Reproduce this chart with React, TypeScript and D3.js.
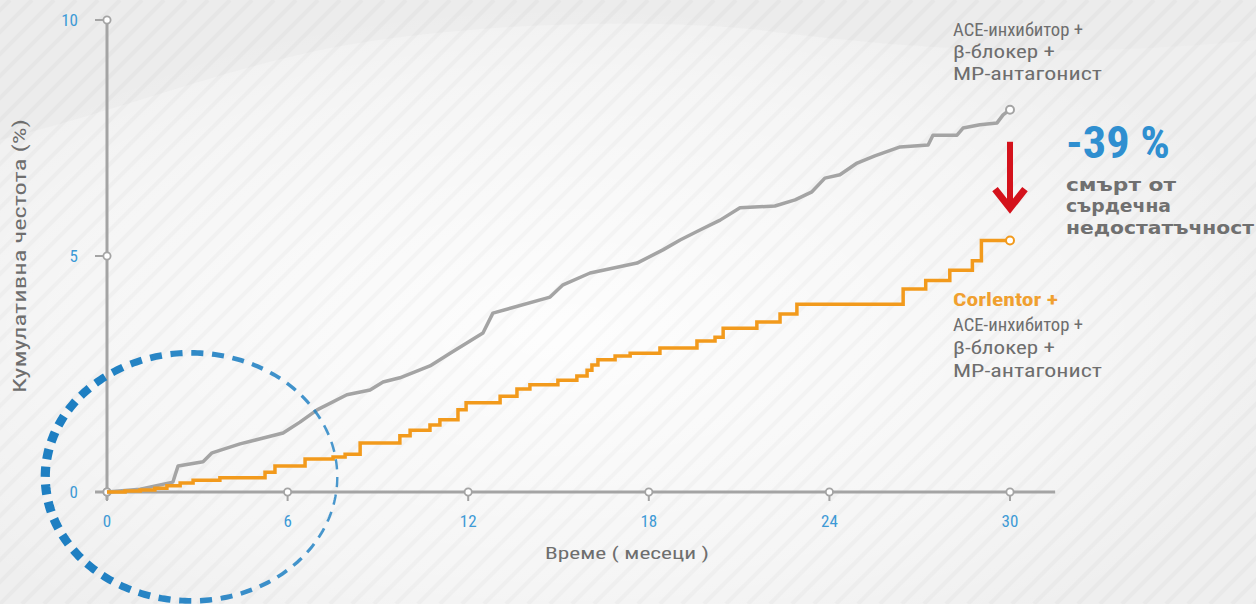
import React from "react";
import * as d3 from "d3";

// Cumulative incidence (%) by month — standard therapy
const controlMonths = [0, 1.1, 2.19, 2.36, 3.19, 3.49, 4.42, 5.85, 6.41, 6.98, 7.97, 8.74, 9.17, 9.73, 10.73, 11.4, 12.49, 12.82, 14.72, 15.15, 16.05, 17.61, 18.47, 19.04, 19.7, 20.37, 21.03, 22.19, 22.86, 23.42, 23.85, 24.35, 24.92, 25.51, 26.35, 27.28, 27.44, 28.24, 28.44, 29.0, 29.57, 29.77, 30.0];
const controlValues = [0, 0.06, 0.21, 0.55, 0.64, 0.83, 1.02, 1.25, 1.48, 1.74, 2.06, 2.16, 2.33, 2.42, 2.67, 2.94, 3.37, 3.79, 4.13, 4.39, 4.64, 4.85, 5.13, 5.34, 5.55, 5.76, 6.02, 6.06, 6.19, 6.36, 6.65, 6.72, 6.97, 7.12, 7.31, 7.35, 7.56, 7.56, 7.71, 7.78, 7.82, 7.99, 8.1];

// Cumulative incidence (%) by month — Corlentor added (step function)
const treatedMonths = [0, 0.6, 1.1, 1.59, 1.99, 2.43, 2.86, 3.75, 5.25, 5.58, 6.58, 7.51, 7.91, 8.41, 9.73, 10.07, 10.73, 11.06, 11.66, 11.93, 13.06, 13.62, 14.05, 14.98, 15.61, 15.95, 16.11, 16.31, 16.88, 17.38, 18.37, 19.6, 20.2, 20.47, 21.59, 22.36, 22.92, 26.45, 27.2, 28.0, 28.75, 29.05, 30.0];
const treatedValues = [0, 0.02, 0.04, 0.08, 0.13, 0.19, 0.25, 0.3, 0.42, 0.55, 0.7, 0.74, 0.8, 1.04, 1.19, 1.31, 1.42, 1.53, 1.74, 1.89, 2.03, 2.18, 2.27, 2.37, 2.46, 2.58, 2.69, 2.8, 2.88, 2.94, 3.05, 3.2, 3.28, 3.47, 3.6, 3.77, 3.98, 4.3, 4.48, 4.7, 4.9, 5.33, 5.33];

const xTicks = [0, 6, 12, 18, 24, 30];
const yTicks = [0, 5, 10];

const yTitle = "Кумулативна честота (%)";
const xTitle = "Време ( месеци )";
const controlLabel = ["ACE-инхибитор +", "β-блокер +", "MP-антагонист"];
const treatedHead = "Corlentor +";
const treatedLabel = ["ACE-инхибитор +", "β-блокер +", "MP-антагонист"];
const reduction = "-39 %";
const reductionText = ["смърт от", "сърдечна", "недостатъчност"];

const W = 1256;
const H = 604;
const GRAY = "#a4a4a4";
const ORANGE = "#f29a1c";
const BLUE = "#3d9ad6";
const TEXT = "#6e6e6e";
const FONT = "'Liberation Sans Narrow', 'Roboto Condensed', Roboto, sans-serif";

// widths of the stacked label lines
const labelWidths = [130, 102, 149];
const reductionWidths = [110, 105, 188];

export default function App() {
  const x = d3.scaleLinear().domain([0, 30]).range([107, 1010]);
  const y = d3.scaleLinear().domain([0, 10]).range([492, 20]);

  const control = controlMonths.map((m, i) => [m, controlValues[i]] as [number, number]);
  const treated = treatedMonths.map((m, i) => [m, treatedValues[i]] as [number, number]);

  const lineLinear = d3.line<[number, number]>().x((d) => x(d[0])).y((d) => y(d[1])).curve(d3.curveLinear);
  const lineStep = d3.line<[number, number]>().x((d) => x(d[0])).y((d) => y(d[1])).curve(d3.curveStepAfter);

  const lastC = control[control.length - 1];
  const lastT = treated[treated.length - 1];

  // dashed highlight ring around the first months, thicker on the left
  const ringCx = x(2.8);
  const ringCy = y(0.32);
  const rx = 146;
  const ry = 124;
  const nDash = 44;
  const dashes = d3.range(nDash).map((i) => {
    const step = (Math.PI * 2) / nDash;
    const a0 = i * step;
    const a1 = a0 + step * 0.58;
    const pts = d3.range(0, 1.0001, 0.25).map((t) => {
      const a = a0 + (a1 - a0) * t;
      return [ringCx + rx * Math.cos(a), ringCy + ry * Math.sin(a)] as [number, number];
    });
    const mid = (a0 + a1) / 2;
    const w = 5.8 - 3.4 * Math.cos(mid);
    const op = 0.92 - 0.12 * Math.cos(mid);
    return { d: d3.line()(pts) as string, w, op };
  });

  const stripes = d3.range(-40, 80).map((i) => i * 22);

  const arrowX = x(30);
  const arrowTop = y(7.42);
  const arrowTip = y(5.93);

  return (
    <svg
      width={W}
      height={H}
      viewBox={`0 0 ${W} ${H}`}
      style={{ position: "absolute", left: 0, top: 0, display: "block" }}
      fontFamily={FONT}
    >
      <defs>
        <radialGradient id="glow" cx="0.45" cy="0.55" r="0.6">
          <stop offset="0" stopColor="#ffffff" stopOpacity="0.9" />
          <stop offset="0.7" stopColor="#ffffff" stopOpacity="0.4" />
          <stop offset="1" stopColor="#ffffff" stopOpacity="0" />
        </radialGradient>
        <clipPath id="bgclip">
          <rect x={0} y={0} width={W} height={H} />
        </clipPath>
      </defs>

      {/* backdrop */}
      <rect x={0} y={0} width={W} height={H} fill="#efefef" />
      <rect x={0} y={0} width={W} height={H} fill="url(#glow)" />
      <path
        d="M0,140 C120,110 220,70 330,48 C470,22 650,18 760,30 C900,48 1050,60 1256,40 L1256,0 L0,0 Z"
        fill="#e9e9e9"
        opacity={0.6}
      />
      <g clipPath="url(#bgclip)" opacity={0.018}>
        {stripes.map((s) => (
          <line key={s} x1={s} y1={H} x2={s + H} y2={0} stroke="#000" strokeWidth={4} />
        ))}
      </g>

      {/* axes */}
      <line x1={x(0)} y1={y(10)} x2={x(0)} y2={y(0) + 8} stroke={GRAY} strokeWidth={3} />
      <line x1={x(0) - 12} y1={y(0)} x2={x(31.5)} y2={y(0)} stroke={GRAY} strokeWidth={3} />

      {yTicks.map((t) => (
        <g key={"y" + t}>
          <line x1={x(0) - 12} y1={y(t)} x2={x(0)} y2={y(t)} stroke={GRAY} strokeWidth={2} />
          <text x={x(0) - 29} y={y(t)} dy="0.35em" textAnchor="end" fontSize={17} fill={BLUE}>
            {t}
          </text>
        </g>
      ))}
      {xTicks.map((t) => (
        <g key={"x" + t}>
          <line x1={x(t)} y1={y(0)} x2={x(t)} y2={y(0) + 9} stroke={GRAY} strokeWidth={2} />
          <text x={x(t)} y={y(0) + 29} dy="0.35em" textAnchor="middle" fontSize={17} fill={BLUE}>
            {t}
          </text>
        </g>
      ))}
      {yTicks.map((t) => (
        <circle key={"yc" + t} cx={x(0)} cy={y(t)} r={3.6} fill="#fff" stroke={GRAY} strokeWidth={1.8} />
      ))}
      {xTicks.map((t) => (
        <circle key={"xc" + t} cx={x(t)} cy={y(0)} r={3.6} fill="#fff" stroke={GRAY} strokeWidth={1.8} />
      ))}

      <text
        transform={`translate(20,${y(5)}) rotate(-90)`}
        textAnchor="middle"
        dy="0.35em"
        fontSize={18}
        fill={TEXT}
        textLength={274}
        lengthAdjust="spacingAndGlyphs"
      >
        {yTitle}
      </text>
      <text x={627} y={553} dy="0.35em" textAnchor="middle" fontSize={17} fill={TEXT} textLength={164} lengthAdjust="spacingAndGlyphs">
        {xTitle}
      </text>

      {/* curves */}
      <path d={lineLinear(control) as string} fill="none" stroke={GRAY} strokeWidth={3.5} strokeLinejoin="round" />
      <path d={lineStep(treated) as string} fill="none" stroke={ORANGE} strokeWidth={3.5} strokeLinejoin="miter" />
      <circle cx={x(lastC[0])} cy={y(lastC[1])} r={4} fill="#fff" stroke={GRAY} strokeWidth={2} />
      <circle cx={x(lastT[0])} cy={y(lastT[1])} r={4} fill="#fff" stroke={ORANGE} strokeWidth={2} />

      {/* highlight ring */}
      <g fill="none" stroke="#1e7fc2" strokeLinecap="butt">
        {dashes.map((d, i) => (
          <path key={i} d={d.d} strokeWidth={d.w} opacity={d.op} />
        ))}
      </g>

      {/* series labels */}
      <g fontSize={18} fill={TEXT}>
        {controlLabel.map((s, i) => (
          <text key={"c" + i} x={953} y={30 + i * 22} dy="0.35em" textLength={labelWidths[i]} lengthAdjust="spacingAndGlyphs">
            {s}
          </text>
        ))}
        <text x={953} y={300} dy="0.35em" fill="#f0a030" fontWeight="bold" textLength={105} lengthAdjust="spacingAndGlyphs">
          {treatedHead}
        </text>
        {treatedLabel.map((s, i) => (
          <text key={"t" + i} x={953} y={325 + i * 23} dy="0.35em" textLength={labelWidths[i]} lengthAdjust="spacingAndGlyphs">
            {s}
          </text>
        ))}
      </g>

      {/* reduction annotation */}
      <rect x={arrowX - 3} y={arrowTop} width={6} height={arrowTip - arrowTop - 6} fill="#d4121c" />
      <polyline
        points={`${arrowX - 15},${arrowTip - 23} ${arrowX},${arrowTip - 4} ${arrowX + 15},${arrowTip - 23}`}
        fill="none"
        stroke="#d4121c"
        strokeWidth={7}
        strokeLinejoin="miter"
      />
      <text
        x={1066}
        y={143}
        dy="0.35em"
        fontSize={44}
        fontWeight="bold"
        fill="#2f8fd0"
        textLength={104}
        lengthAdjust="spacingAndGlyphs"
      >
        {reduction}
      </text>
      <g fontSize={17} fontWeight="bold" fill="#707070" fontFamily="'DejaVu Sans', sans-serif">
        {reductionText.map((s, i) => (
          <text key={"r" + i} x={1066} y={185 + i * 21.5} dy="0.35em" textLength={reductionWidths[i]} lengthAdjust="spacingAndGlyphs">
            {s}
          </text>
        ))}
      </g>
    </svg>
  );
}
